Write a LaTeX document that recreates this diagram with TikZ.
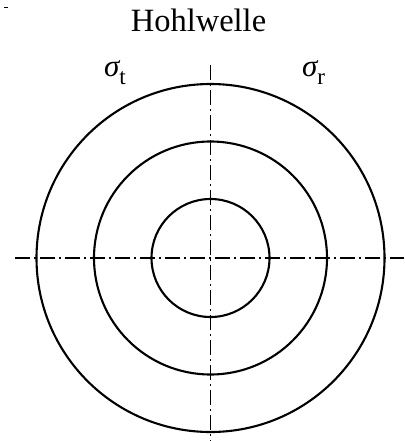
\documentclass[tikz,border=0pt]{standalone}
\usepackage{fontspec}
\setmainfont{Liberation Serif}
\begin{document}
\begin{tikzpicture}[x=1pt,y=-1pt,
  ring/.style={line width=2.1pt},
  axis/.style={line width=1.9pt, dash pattern=on 15pt off 4pt on 2pt off 4pt},
  lab/.style={font=\fontsize{32.5}{32}\selectfont, inner sep=0pt},
  sig/.style={font=\fontsize{31}{31}\selectfont, inner sep=0pt, anchor=base west}]
\useasboundingbox (0,0) rectangle (404,441);
\coordinate (c) at (210.5,258);
\draw[ring] (c) circle[radius=174];
\draw[ring] (c) circle[radius=116.5];
\draw[ring] (c) circle[radius=59];
\coordinate (hl) at (15,258);
\coordinate (hr) at (404,258);
\coordinate (vt) at (210.5,65);
\coordinate (vb) at (210.5,441);
\draw[axis] (hl) -- (hr);
\draw[axis] (vt) -- (vb);
\node[lab, anchor=base] (title) at (198.5,32) {Hohlwelle};
\node[sig] (st) at (104,77) {\textit{σ}\kern-1pt\raisebox{-8pt}{\fontsize{23}{23}\selectfont t}};
\node[sig] (sr) at (302,77) {\textit{σ}\kern-1pt\raisebox{-8pt}{\fontsize{23}{23}\selectfont r}};
\coordinate (m1) at (4,7);
\coordinate (m2) at (8,7);
\draw[line width=0.8pt] (m1) -- (m2);
\end{tikzpicture}
\end{document}
